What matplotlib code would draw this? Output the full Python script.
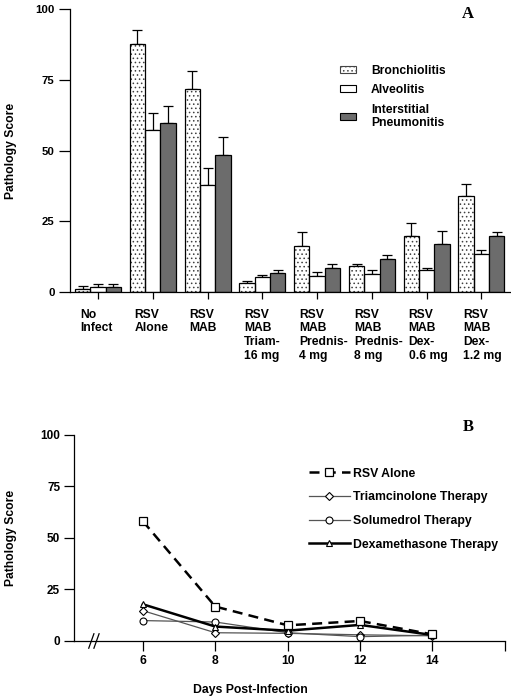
import matplotlib.pyplot as plt
import numpy as np
from matplotlib.patches import Patch

plt.rcParams['font.family'] = ['Liberation Sans', 'DejaVu Sans']
plt.rcParams['font.weight'] = 'bold'
plt.rcParams['hatch.color'] = '#404040'
plt.rcParams['hatch.linewidth'] = 0.6

# panel A data
groups = ['No\nInfect', 'RSV\nAlone', 'RSV\nMAB', 'RSV\nMAB\nTriam-\n16 mg',
          'RSV\nMAB\nPrednis-\n4 mg', 'RSV\nMAB\nPrednis-\n8 mg',
          'RSV\nMAB\nDex-\n0.6 mg', 'RSV\nMAB\nDex-\n1.2 mg']
bronchiolitis = [1.2, 87.5, 71.7, 3.1, 16.4, 9.1, 20.0, 33.8]
bronchiolitis_err = [0.9, 5.0, 6.3, 1.0, 4.8, 0.9, 4.5, 4.5]
alveolitis = [1.8, 57.2, 38.0, 5.2, 5.8, 6.5, 7.8, 13.4]
alveolitis_err = [1.1, 6.1, 5.7, 0.9, 1.4, 1.2, 0.6, 1.4]
interstitial = [1.9, 59.7, 48.6, 6.6, 8.4, 11.7, 17.1, 20.0]
interstitial_err = [1.0, 6.1, 6.2, 1.4, 1.4, 1.3, 4.5, 1.1]

# panel B data
days = [6, 8, 10, 12, 14]
rsv_alone = [58.1, 16.7, 7.6, 9.7, 3.2]
triamcinolone = [14.7, 4.0, 3.7, 3.0, 2.5]
solumedrol = [9.9, 9.2, 4.0, 2.1, 2.8]
dexamethasone = [17.8, 7.0, 5.0, 7.8, 2.9]

fig = plt.figure(figsize=(5.11, 6.99), dpi=100)

# ---------- panel A ----------
ax = fig.add_axes([0.137, 0.582, 0.861, 0.405])
x = np.arange(len(groups))
w = 0.28
series = [
    (bronchiolitis, bronchiolitis_err, 'white', '....'),
    (alveolitis, alveolitis_err, 'white', None),
    (interstitial, interstitial_err, '#6c6c6c', None),
]
for k, (vals, err, fc, hatch) in enumerate(series):
    pos = x + (k - 1) * w
    if hatch:
        ax.bar(pos, vals, w, color=fc, hatch=hatch, linewidth=0, zorder=2)
        ax.bar(pos, vals, w, fill=False, edgecolor='black', linewidth=0.9, zorder=3)
    else:
        ax.bar(pos, vals, w, color=fc, edgecolor='black', linewidth=0.9, zorder=2)
    ax.errorbar(pos, vals, yerr=[np.zeros(len(err)), err], fmt='none',
                ecolor='black', elinewidth=0.9, capsize=3.6, capthick=0.9, zorder=1)

ax.set_xlim(-0.51, 7.52)
ax.set_ylim(0, 100)
ax.set_yticks([0, 25, 50, 75, 100])
ax.set_xticks(x)
ax.set_xticklabels([])
ax.tick_params(axis='y', direction='out', length=8, width=0.9, labelsize=8.2, pad=3)
ax.tick_params(axis='x', direction='out', length=5, width=0.9)
for s in ['top', 'right']:
    ax.spines[s].set_visible(False)
for s in ['left', 'bottom']:
    ax.spines[s].set_linewidth(0.9)
ax.set_ylabel('Pathology Score', fontsize=8.7, fontweight='bold', labelpad=13)
for i, lab in enumerate(groups):
    ax.text(i - 0.33, -5.8, lab, ha='left', va='top', fontsize=8.7,
            fontweight='bold', linespacing=1.2)

ax.text(0.905, 0.982, 'A', transform=ax.transAxes, fontsize=12,
        fontweight='bold', family='Liberation Serif', ha='center', va='center')

h1 = Patch(facecolor='white', hatch='....', edgecolor='#444444', linewidth=0.8)
h2 = Patch(facecolor='white', edgecolor='black', linewidth=0.8)
h3 = Patch(facecolor='#6c6c6c', edgecolor='black', linewidth=0.8)
ax.legend([h1, h2, h3], ['Bronchiolitis', 'Alveolitis', 'Interstitial\nPneumonitis'],
          loc='upper left', bbox_to_anchor=(0.614, 0.804), frameon=False,
          fontsize=8.7, handlelength=1.3, handleheight=0.5, handletextpad=1.25,
          labelspacing=0.62, borderaxespad=0, borderpad=0)

# ---------- panel B ----------
bx = fig.add_axes([0.145, 0.083, 0.843, 0.295])
bx.plot(days, rsv_alone, color='black', linestyle=(0, (4, 2.5)), linewidth=1.8,
        marker='s', markersize=5.5, markerfacecolor='white',
        markeredgecolor='black', markeredgewidth=0.9, label='RSV Alone', zorder=4)
bx.plot(days, triamcinolone, color='#555555', linewidth=0.9, marker='D',
        markersize=4, markerfacecolor='white', markeredgecolor='black',
        markeredgewidth=0.8, label='Triamcinolone Therapy', zorder=3)
bx.plot(days, solumedrol, color='#555555', linewidth=0.9, marker='o',
        markersize=5, markerfacecolor='white', markeredgecolor='black',
        markeredgewidth=0.8, label='Solumedrol Therapy', zorder=3)
bx.plot(days, dexamethasone, color='black', linewidth=1.8, marker='^',
        markersize=5, markerfacecolor='white', markeredgecolor='black',
        markeredgewidth=0.8, label='Dexamethasone Therapy', zorder=3)

bx.set_xlim(4.1, 16)
bx.set_ylim(0, 100)
bx.set_yticks([0, 25, 50, 75, 100])
bx.set_xticks([6, 8, 10, 12, 14, 16])
bx.set_xticklabels(['6', '8', '10', '12', '14', ''])
bx.tick_params(axis='y', direction='out', length=7, width=0.9, labelsize=8.5, pad=3)
bx.tick_params(axis='x', direction='out', length=7, width=0.9, labelsize=8.7, pad=3)
for s in ['top', 'right']:
    bx.spines[s].set_visible(False)
for s in ['left', 'bottom']:
    bx.spines[s].set_linewidth(0.9)
bx.set_ylabel('Pathology Score', fontsize=8.7, fontweight='bold', labelpad=17)
fig.text(250 / 511, 1 - 690 / 699, 'Days Post-Infection', ha='center',
         va='center', fontsize=8.8, fontweight='bold')

# axis break marks
for dx in (0.040, 0.052):
    bx.plot([dx - 0.006, dx + 0.006], [-0.035, 0.035], color='black',
            linewidth=0.9, transform=bx.transAxes, clip_on=False)

bx.text(0.914, 1.04, 'B', transform=bx.transAxes, fontsize=12,
        fontweight='bold', family='Liberation Serif', ha='center', va='center')
bx.legend(loc='upper left', bbox_to_anchor=(0.545, 0.84), frameon=False,
          fontsize=8.8, handlelength=3.35, handletextpad=0.25, labelspacing=0.95,
          borderaxespad=0, borderpad=0)

fig.savefig('out.png', dpi=100)
